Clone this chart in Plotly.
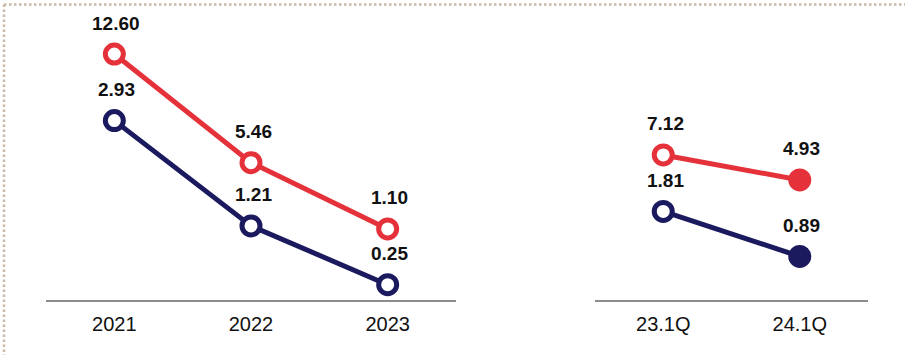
import plotly.graph_objects as go

# yearly values
years = ['2021', '2022', '2023']
red_years = [12.60, 5.46, 1.10]
navy_years = [2.93, 1.21, 0.25]

# quarterly values
quarters = ['23.1Q', '24.1Q']
red_q = [7.12, 4.93]
navy_q = [1.81, 0.89]

RED = '#e5323a'
NAVY = '#1b1a5f'
W, H = 905, 355

fig = go.Figure()


def add_series(x, y, color, xaxis, yaxis, filled_last=False):
    fills = ['white'] * len(y)
    if filled_last:
        fills[-1] = color
    fig.add_trace(go.Scatter(
        x=x, y=y, xaxis=xaxis, yaxis=yaxis,
        mode='lines+markers',
        line=dict(color=color, width=5),
        marker=dict(symbol='circle', size=18, color=fills,
                    line=dict(color=color, width=5)),
        showlegend=False, hoverinfo='skip',
    ))
    # category index for x, year strings would be read as numbers
    for i, yi in enumerate(y):
        fig.add_annotation(
            x=i, y=yi, xref=xaxis, yref=yaxis,
            text=f"{yi:.2f}", showarrow=False,
            yanchor='middle', yshift=31, xshift=2,
            font=dict(size=19, color='#111111', weight='bold'),
        )


add_series(years, navy_years, NAVY, 'x', 'y2')
add_series(years, red_years, RED, 'x', 'y')
add_series(quarters, navy_q, NAVY, 'x2', 'y4', filled_last=True)
add_series(quarters, red_q, RED, 'x2', 'y3', filled_last=True)

ydom = [55 / H, 1]
xax = dict(type='category', showline=True, linecolor='#8c8c8c', linewidth=2,
           showgrid=False, zeroline=False, ticks='', ticklabelstandoff=5,
           tickfont=dict(size=20, color='#111111'), fixedrange=True)
yax = dict(visible=False, showgrid=False, zeroline=False, domain=ydom)

fig.update_layout(
    width=W, height=H,
    margin=dict(l=0, r=0, t=0, b=0),
    paper_bgcolor='white', plot_bgcolor='white',
    font=dict(family='Liberation Sans, Arial, sans-serif'),
    xaxis=dict(xax, domain=[46 / W, 456 / W], anchor='y', range=[-0.5, 2.5]),
    xaxis2=dict(xax, domain=[595 / W, 868 / W], anchor='y3', range=[-0.5, 1.5]),
    yaxis=dict(yax, anchor='x', range=[-3.57, 16.15]),
    yaxis2=dict(yax, anchor='x', overlaying='y', range=[0, 4.9]),
    yaxis3=dict(yax, anchor='x2', range=[-5.58, 20.69]),
    yaxis4=dict(yax, anchor='x2', overlaying='y3', range=[0, 6.13]),
)

# dotted frame top and left
border = dict(color='#c9b9a6', width=2.5, dash='2.5px,2.5px')
fig.add_shape(type='line', xref='paper', yref='paper',
              x0=4 / W, x1=1, y0=1 - 4.5 / H, y1=1 - 4.5 / H, line=border)
fig.add_shape(type='line', xref='paper', yref='paper',
              x0=4 / W, x1=4 / W, y0=1 - 4.5 / H, y1=0, line=border)

# page body has a default margin; drop it so the figure sits at 0,0
fig.write_html("out.html", config={'displayModeBar': False},
               post_script="document.body.style.margin='0px';")
